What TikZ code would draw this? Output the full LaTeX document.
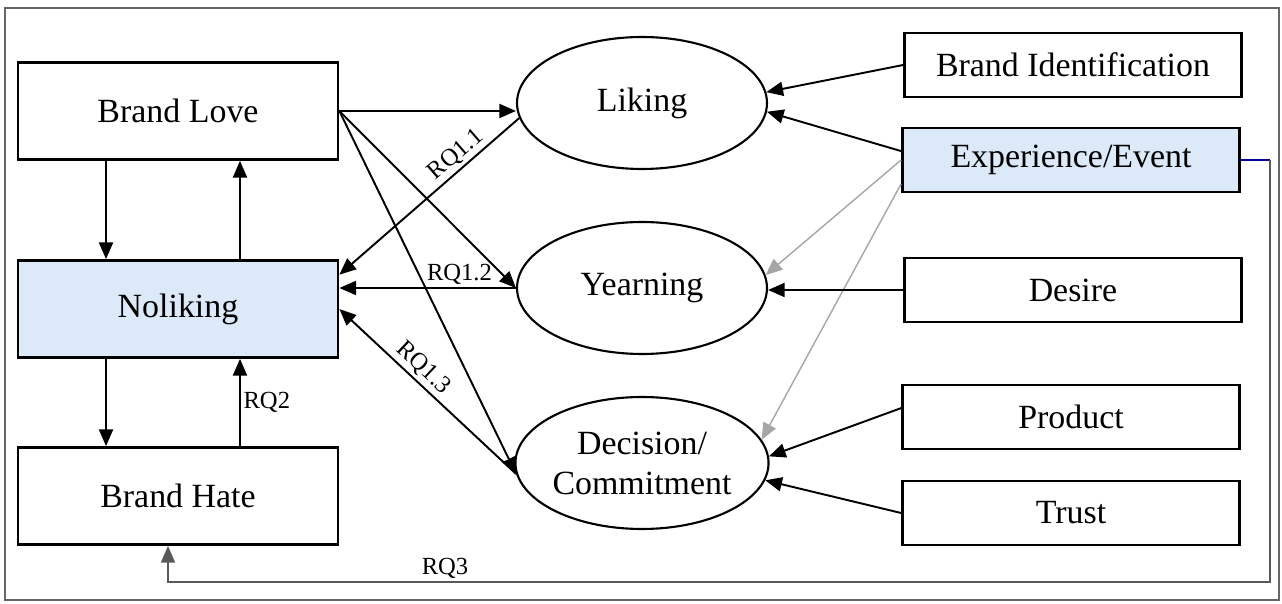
\documentclass[tikz,border=0pt]{standalone}
\usepackage{fontspec}
\setmainfont{Liberation Serif}
\usetikzlibrary{shapes.geometric,arrows.meta}
\definecolor{paleblue}{HTML}{DCE9F8}

\begin{document}
\begin{tikzpicture}[x=0.02cm,y=-0.02cm,
  box/.style={draw,line width=1.6pt,minimum width=6.4cm,minimum height=1.94cm,font=\fontsize{19.3}{23}\selectfont},
  factor/.style={draw,line width=1.6pt,minimum width=6.74cm,minimum height=1.28cm,font=\fontsize{19.3}{23}\selectfont},
  oval/.style={draw,ellipse,line width=1.2pt,minimum width=5cm,minimum height=2.64cm,inner sep=0pt,align=center,font=\fontsize{19.3}{22.7}\selectfont},
  arr/.style={-{Triangle[length=9.5pt,width=8pt]},line width=1.1pt},
  greyarr/.style={arr,draw=black!35,line width=0.8pt},
  rq/.style={font=\fontsize{14}{16}\selectfont,inner sep=1.5pt}]
\useasboundingbox (0,0) rectangle (1282,604);
\draw[black!60,line width=0.7pt] (5,8) rectangle (1279,600);

% left column
\node[box] (love) at (178,111) {Brand Love};
\node[box,fill=paleblue] (noliking) at (178,309) {Noliking};
\node[box] (hate) at (178,496) {Brand Hate};

% middle column
\node[oval] (liking) at (642,103) {Liking};
\node[oval] (yearning) at (642,288) {Yearning};
\node[oval] (decision) at (642,463) {Decision/\\Commitment};

% right column
\node[factor] (ident) at (1073,65) {Brand Identification};
\node[factor,fill=paleblue] (exper) at (1071,160) {Experience/Event};
\node[factor] (desire) at (1073,290) {Desire};
\node[factor] (product) at (1071,417) {Product};
\node[factor] (trust) at (1071,513) {Trust};

% left loops
\draw[arr] ([xshift=-1.44cm]love.south) -- ([xshift=-1.44cm]noliking.north);
\draw[arr] ([xshift=1.24cm]noliking.north) -- ([xshift=1.24cm]love.south);
\draw[arr] ([xshift=-1.44cm]noliking.south) -- ([xshift=-1.44cm]hate.north);
\draw[arr] ([xshift=1.24cm]hate.north) -- node[rq,right]{RQ2} ([xshift=1.24cm]noliking.south);

% brand love to the three stages
\draw[arr] (love.east) -- (love.east -| liking.west);
\draw[arr] (love.east) -- (yearning.west);
\draw[arr] (love.east) -- (decision.185);

% back to noliking
\draw[arr] (liking.187) -- node[rq,sloped,above,pos=0.3]{RQ1.1} (noliking.12);
\draw[arr] (yearning.west) -- node[rq,above,pos=0.32]{RQ1.2} (yearning.west -| noliking.east);
\draw[arr] (decision.185) -- node[rq,sloped,above,pos=0.58]{RQ1.3} (noliking.east);

% antecedents
\draw[arr] (ident.west) -- (liking.5);
\draw[arr] (exper.177) -- (liking.-4);
\draw[greyarr] (exper.west) -- (yearning.6);
\draw[greyarr] (exper.188) -- (decision.11);
\draw[arr] (desire.west) -- (desire.west -| yearning.east);
\draw[arr] (product.177) -- (decision.3);
\draw[arr] (trust.west) -- (decision.-8);

% RQ3 feedback
\coordinate (turn) at (1270,582);
\draw[blue!60!black,line width=0.8pt] (exper.east) -- (exper.east -| turn);
\draw[-{Triangle[length=9.5pt,width=8pt]},black!65,line width=0.8pt] (exper.east -| turn) -- (turn) -| ([xshift=-0.2cm]hate.south);
\node[rq] (rq3) at (445,568) {RQ3};
\end{tikzpicture}
\end{document}
